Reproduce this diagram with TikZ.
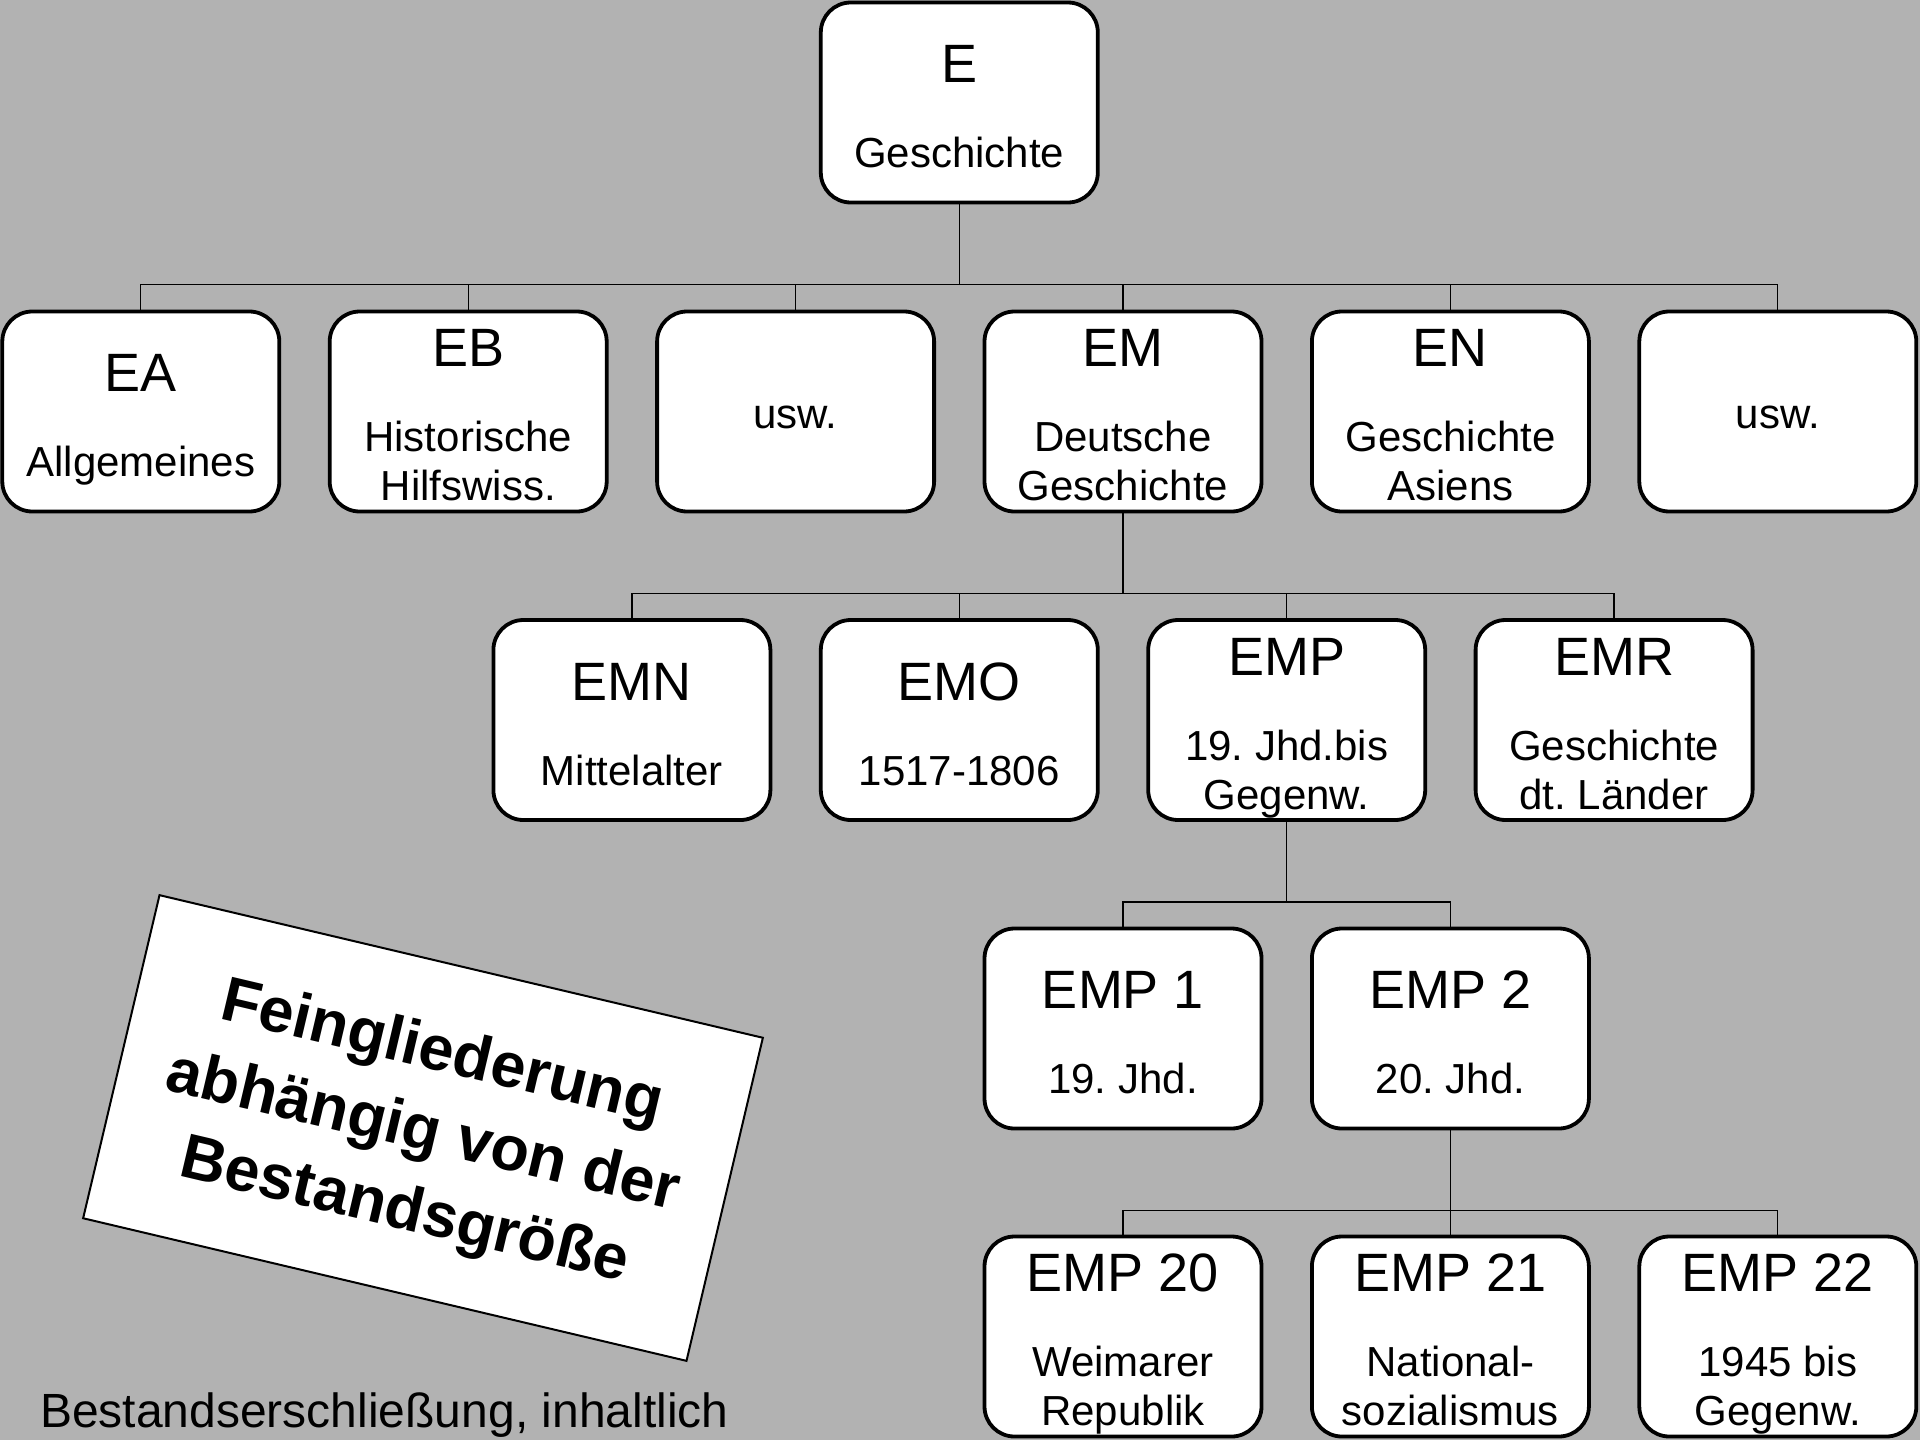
\documentclass[tikz,border=0pt]{standalone}
\usepackage{fontspec}
\setmainfont{Liberation Sans}
\usetikzlibrary{calc}
\frenchspacing
\definecolor{bggray}{RGB}{178,178,178}
\tikzset{
  bx/.style={draw=black, line width=3.8pt, fill=white, rounded corners=30pt,
    minimum width=277pt, minimum height=200pt, inner sep=0pt},
  conn/.style={draw=black, line width=1.3pt},
  codetxt/.style={font=\fontsize{54}{62}\selectfont, anchor=base, inner sep=0pt},
  subtxt/.style={font=\fontsize{42}{48}\selectfont, anchor=base, inner sep=0pt},
  notebox/.style={draw=black, line width=2pt, fill=white, minimum width=620pt,
    minimum height=332pt, inner sep=0pt, rotate=-13.3},
  notetxt/.style={rotate=-13.3, align=center, inner sep=0pt,
    font=\bfseries\fontsize{63}{81}\selectfont},
  foottxt/.style={anchor=base west, inner sep=0pt, font=\fontsize{48}{54}\selectfont},
}
% one subtitle line
\newcommand\boxA[5]{%
  \node[bx] (#1) at (#2,#3) {};
  \node[codetxt] (#1c) at ($(#1.center)+(0,-20)$) {#4};
  \node[subtxt] (#1s) at ($(#1.center)+(0,65)$) {#5};
}
% two subtitle lines
\newcommand\boxB[6]{%
  \node[bx] (#1) at (#2,#3) {};
  \node[codetxt] (#1c) at ($(#1.center)+(0,-45)$) {#4};
  \node[subtxt] (#1s) at ($(#1.center)+(0,40)$) {#5};
  \node[subtxt] (#1t) at ($(#1.center)+(0,89)$) {#6};
}
% only "usw."
\newcommand\boxU[3]{%
  \node[bx] (#1) at (#2,#3) {};
  \node[subtxt] (#1s) at ($(#1.center)+(0,17)$) {usw.};
}
\begin{document}
\begin{tikzpicture}[x=1pt,y=-1pt]
\fill[bggray] (0,0) rectangle (1920,1440);
\useasboundingbox (0,0) rectangle (1920,1440);

% top
\boxA{E}{959.3}{102.5}{E}{Geschichte}
% row 1
\boxA{EA}{140.8}{411.5}{EA}{Allgemeines}
\boxB{EB}{468.2}{411.5}{EB}{Historische}{Hilfswiss.}
\boxU{UA}{795.6}{411.5}
\boxB{EM}{1123.0}{411.5}{EM}{Deutsche}{Geschichte}
\boxB{EN}{1450.4}{411.5}{EN}{Geschichte}{Asiens}
\boxU{UB}{1777.8}{411.5}
% row 2
\boxA{EMN}{631.9}{720}{EMN}{Mittelalter}
\boxA{EMO}{959.3}{720}{EMO}{1517-1806}
\boxB{EMP}{1286.7}{720}{EMP}{19. Jhd.bis}{Gegenw.}
\boxB{EMR}{1614.1}{720}{EMR}{Geschichte}{dt. Länder}
% row 3
\boxA{EMPa}{1123.0}{1028.5}{EMP 1}{19. Jhd.}
\boxA{EMPb}{1450.4}{1028.5}{EMP 2}{20. Jhd.}
% row 4
\boxB{EMPc}{1123.0}{1336.5}{EMP 20}{Weimarer}{Republik}
\boxB{EMPd}{1450.4}{1336.5}{EMP 21}{National-}{sozialismus}
\boxB{EMPe}{1777.8}{1336.5}{EMP 22}{1945 bis}{Gegenw.}

% connectors
\path (E.south) ++(0,80) coordinate (b1);
\foreach \c in {EA,EB,UA,EM,EN,UB} \draw[conn] (E.south) -- (b1) -| (\c.north);
\path (EM.south) ++(0,80) coordinate (b2);
\foreach \c in {EMN,EMO,EMP,EMR} \draw[conn] (EM.south) -- (b2) -| (\c.north);
\path (EMP.south) ++(0,80) coordinate (b3);
\foreach \c in {EMPa,EMPb} \draw[conn] (EMP.south) -- (b3) -| (\c.north);
\path (EMPb.south) ++(0,80) coordinate (b4);
\foreach \c in {EMPc,EMPd,EMPe} \draw[conn] (EMPb.south) -- (b4) -| (\c.north);

% rotated note
\node[notebox] (note) at (423,1128) {};
\node[notetxt] (notet) at ($(note.center)+(0,6)$) {Feingliederung\\abhängig von der\\Bestandsgröße};

% footer
\node[foottxt] (foot) at (40,1427) {Bestandserschließung, inhaltlich};
\end{tikzpicture}
\end{document}
